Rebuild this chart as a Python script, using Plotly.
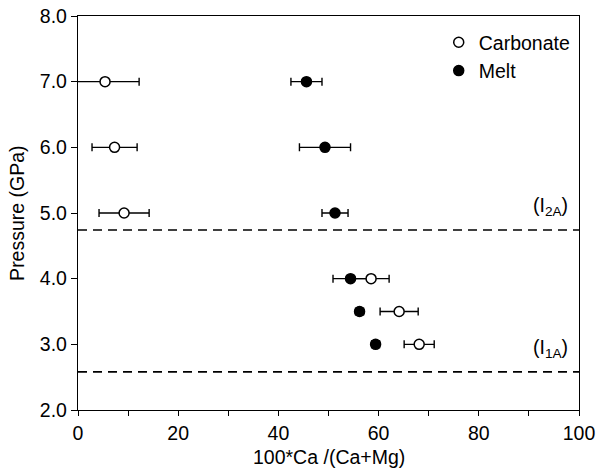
import plotly.graph_objects as go

pressure = [7.0, 6.0, 5.0, 4.0, 3.5, 3.0]
carb_x = [5.4, 7.3, 9.2, 58.5, 64.1, 68.1]
carb_err = [6.8, 4.5, 5.0, 3.6, 3.8, 3.0]
melt_x = [45.6, 49.3, 51.3, 54.4, 56.2, 59.4]
melt_err = [3.1, 5.1, 2.6, 3.5, 0.8, 0.8]
boundaries = [4.74, 2.58]
boundary_labels = ["(I<sub>2A</sub>)", "(I<sub>1A</sub>)"]
x_ticks = [0, 20, 40, 60, 80, 100]
y_ticks = [2, 3, 4, 5, 6, 7, 8]

FONT = "Liberation Sans, Arial, Helvetica, sans-serif"
FS = 19.5

fig = go.Figure()

for yb in boundaries:
    fig.add_shape(type="line", xref="x", yref="y", x0=0, x1=100, y0=yb, y1=yb,
                  line=dict(color="black", width=1.6, dash="9px,6px"))

fig.add_trace(go.Scatter(
    x=melt_x, y=pressure, mode="markers", name="Melt",
    marker=dict(symbol="circle", size=10, color="black", line=dict(color="black", width=1.5)),
    error_x=dict(type="data", array=melt_err, visible=True, color="black", thickness=1.4, width=4),
))
fig.add_trace(go.Scatter(
    x=carb_x, y=pressure, mode="markers", name="Carbonate",
    marker=dict(symbol="circle", size=10, color="white", line=dict(color="black", width=1.5)),
    error_x=dict(type="data", array=carb_err, visible=True, color="black", thickness=1.4, width=4),
))

for yb, lab in zip(boundaries, boundary_labels):
    fig.add_annotation(x=98.2, y=yb, xref="x", yref="y", text=lab, showarrow=False,
                       xanchor="right", yanchor="bottom", yshift=9,
                       font=dict(family=FONT, size=FS, color="black"))

fig.add_annotation(x=0.5, y=-0.119, xref="paper", yref="paper", text="100*Ca /(Ca+Mg)",
                   showarrow=False, xanchor="center", yanchor="middle",
                   font=dict(family=FONT, size=FS, color="black"))
fig.add_annotation(x=-0.122, y=0.5, xref="paper", yref="paper", text="Pressure (GPa)",
                   showarrow=False, xanchor="center", yanchor="middle", textangle=-90,
                   font=dict(family=FONT, size=FS, color="black"))

fig.update_xaxes(range=[0, 100], tickvals=x_ticks,
                 ticks="outside", ticklen=5, tickwidth=1.2, tickcolor="black",
                 minor=dict(dtick=10, ticks="outside", ticklen=5, tickwidth=1.2,
                            tickcolor="black", showgrid=False),
                 showline=True, linecolor="black", linewidth=1.3, mirror=True,
                 showgrid=False, zeroline=False, automargin=False,
                 tickfont=dict(family=FONT, size=FS, color="black"))
fig.update_yaxes(range=[2, 8], tickvals=y_ticks, tickformat=".1f",
                 ticks="outside", ticklen=6, tickwidth=1.2, tickcolor="black",
                 showline=True, linecolor="black", linewidth=1.3, mirror=True,
                 showgrid=False, zeroline=False, automargin=False,
                 tickfont=dict(family=FONT, size=FS, color="black"))

fig.update_layout(
    width=602, height=469,
    margin=dict(l=78, r=23, t=16, b=59),
    paper_bgcolor="white", plot_bgcolor="white",
    font=dict(family=FONT, color="black"),
    showlegend=True,
    legend=dict(x=0.72, y=0.982, xanchor="left", yanchor="top", traceorder="reversed",
                font=dict(family=FONT, size=FS, color="black"), bgcolor="rgba(0,0,0,0)",
                itemwidth=30, tracegroupgap=0),
)

fig.write_html("out.html", config={"displayModeBar": False},
               post_script="document.body.style.margin='0';")
